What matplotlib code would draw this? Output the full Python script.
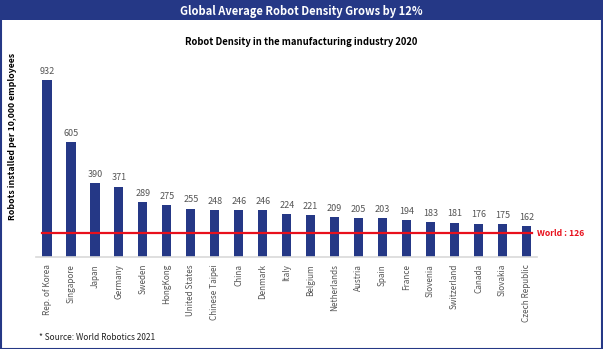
import matplotlib.pyplot as plt
from matplotlib.patches import Rectangle

plt.rcParams['font.family'] = ['Noto Sans CJK KR', 'DejaVu Sans']

countries = ['Rep. of Korea', 'Singapore', 'Japan', 'Germany', 'Sweden', 'HongKong',
             'United States', 'Chinese Taipei', 'China', 'Denmark', 'Italy', 'Belgium',
             'Netherlands', 'Austria', 'Spain', 'France', 'Slovenia', 'Switzerland',
             'Canada', 'Slovakia', 'Czech Republic']
density = [932, 605, 390, 371, 289, 275, 255, 248, 246, 246, 224, 221,
           209, 205, 203, 194, 183, 181, 176, 175, 162]
world_avg = 126

navy = '#253886'
W, H = 603, 349
fig = plt.figure(figsize=(W / 100, H / 100), dpi=100)

# bandeau du titre + cadre
fig.patches.append(Rectangle((0, 1 - 20 / H), 1, 20 / H, transform=fig.transFigure,
                             facecolor=navy, edgecolor='none'))
fig.patches.append(Rectangle((0.5 / W, 0.5 / H), 1 - 1.5 / W, 1 - 1.5 / H, transform=fig.transFigure,
                             facecolor='none', edgecolor=navy, linewidth=1.5))
fig.text(0.5, 1 - 11 / H, 'Global Average Robot Density Grows by 12%', color='white',
         fontsize=8, fontweight='bold', ha='center', va='center')
fig.text(0.5, 1 - 42 / H, 'Robot Density in the manufacturing industry 2020', color='black',
         fontsize=6.8, fontweight='bold', ha='center', va='center')
fig.text(39 / W, 1 - 337 / H, '* Source: World Robotics 2021', fontsize=6, color='#222222',
         ha='left', va='center')

ax = fig.add_axes([36 / W, (H - 257) / H, 501 / W, 190 / H])
x = list(range(len(countries)))
ax.bar(x, density, width=0.38, color=navy)
for xi, v in zip(x, density):
    ax.text(xi, v + 22, str(v), ha='center', va='bottom', fontsize=6.5, color='#555555')

ax.axhline(world_avg, xmin=0.012, xmax=0.99, color='#e8101c', linewidth=1.6)
ax.text(len(countries) - 0.56, world_avg, 'World : 126', color='#e8101c', fontsize=6.2,
        fontweight='bold', ha='left', va='center', clip_on=False)

ax.set_xlim(-0.46, len(countries) - 0.56)
ax.set_ylim(0, 1000)
ax.set_xticks(x)
ax.set_xticklabels(countries, rotation=90, fontsize=5.9, color='#555555')
ax.tick_params(axis='x', length=0, pad=5)
ax.set_yticks([])
for s in ['top', 'right', 'left']:
    ax.spines[s].set_visible(False)
ax.spines['bottom'].set_color('#d9d9d9')
ax.spines['bottom'].set_linewidth(1.2)

fig.text(13 / W, 1 - 136 / H, 'Robots installed per 10,000 employees', rotation=90,
         fontsize=6.3, fontweight='bold', ha='center', va='center')

fig.savefig('out.png', dpi=100)
